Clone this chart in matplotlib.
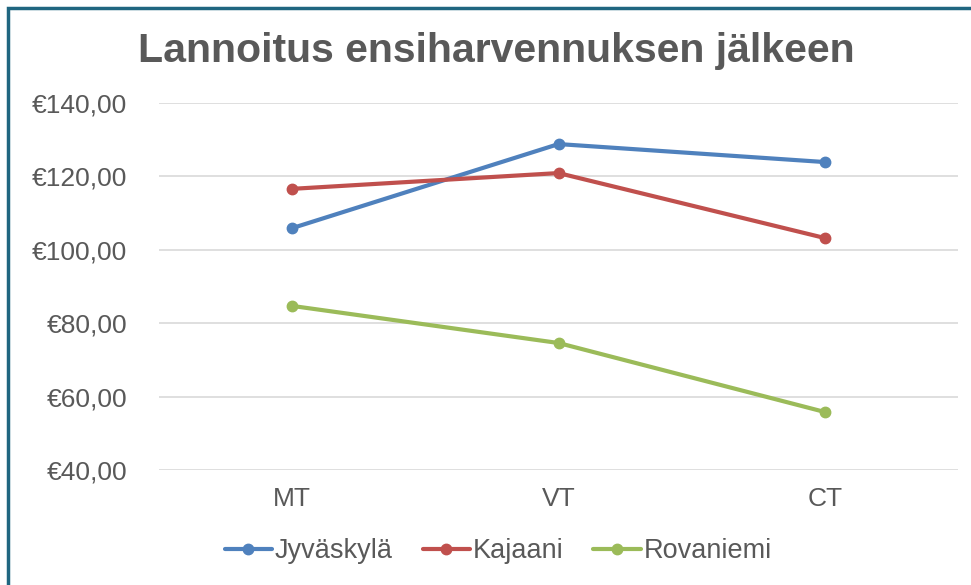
import matplotlib.pyplot as plt
from matplotlib.patches import Rectangle
from matplotlib.ticker import FuncFormatter

categories = ['MT', 'VT', 'CT']
jyvaskyla = [105.9, 128.8, 123.9]
kajaani = [116.6, 120.9, 103.2]
rovaniemi = [84.7, 74.6, 55.8]

series = [
    ('Jyväskylä', jyvaskyla, '#4F81BD'),
    ('Kajaani', kajaani, '#C0504D'),
    ('Rovaniemi', rovaniemi, '#9BBB59'),
]

plt.rcParams['font.family'] = ['Liberation Sans', 'DejaVu Sans']

fig = plt.figure(figsize=(9.71, 5.85), dpi=100)
ax = fig.add_axes([0.1638, 0.1966, 0.8228, 0.6274])

x = range(len(categories))
for name, vals, col in series:
    ax.plot(x, vals, color=col, lw=3, marker='o', ms=7.5, label=name,
            solid_capstyle='round')

ax.set_xlim(-0.5, 2.5)
ax.set_ylim(40, 140)
ax.set_yticks(range(40, 141, 20))
ax.yaxis.set_major_formatter(FuncFormatter(lambda v, p: '€%d,00' % v))
ax.set_xticks(list(x))
ax.set_xticklabels(categories)
ax.grid(axis='y', color='#D9D9D9', lw=1.2)
ax.set_axisbelow(True)
for s in ax.spines.values():
    s.set_visible(False)
ax.tick_params(length=0, labelsize=19, labelcolor='#595959')
ax.tick_params(axis='y', pad=23)
ax.tick_params(axis='x', pad=12)

fig.text(0.511, 0.912, 'Lannoitus ensiharvennuksen jälkeen', ha='center',
         va='center', fontsize=29.5, fontweight='bold', color='#595959')

leg = fig.legend(loc='center', bbox_to_anchor=(0.513, 0.058), ncol=3,
                 frameon=False, fontsize=19.5, handlelength=1.75,
                 handletextpad=0.1, columnspacing=1.1)
for t in leg.get_texts():
    t.set_color('#595959')

fig.patches.append(Rectangle((0.0082, -0.05), 1.2, 1.037,
                             transform=fig.transFigure, fill=False,
                             edgecolor='#1F6680', lw=2.5))

fig.savefig('out.png', dpi=100)
